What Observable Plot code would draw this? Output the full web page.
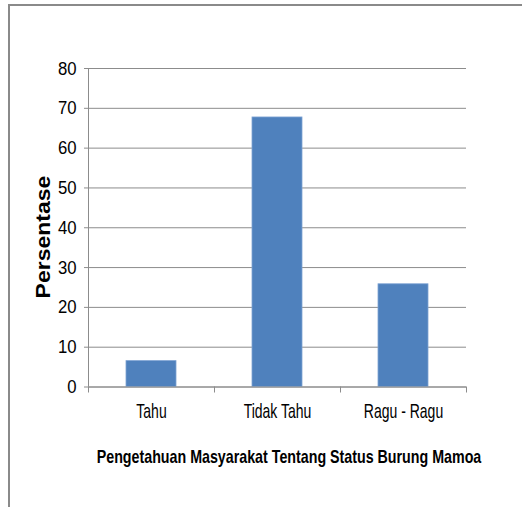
<!DOCTYPE html>
<html>
<head>
<meta charset="utf-8">
<script src="https://cdn.jsdelivr.net/npm/d3@7"></script>
<script src="https://cdn.jsdelivr.net/npm/@observablehq/plot@0.6"></script>
<style>
  html, body { margin: 0; padding: 0; background: #fff; overflow: hidden; width: 522px; height: 507px; }
  #frame { position: absolute; left: 8px; top: 4px; width: 700px; height: 700px; border: 2px solid #8a8a8a; box-sizing: border-box; }
  #chart { position: absolute; left: 0; top: 0; }
  .xtitle { position: absolute; left: 289px; top: 457px; transform: translate(-50%, -50%) scaleX(0.75); white-space: nowrap;
    font-family: "Liberation Sans", Arial, sans-serif; font-weight: bold; font-size: 19px; color: #000; }
  .ytitle { position: absolute; left: 44px; top: 237px; transform: translate(-50%, -50%) rotate(-90deg) scaleY(0.85); white-space: nowrap;
    font-family: "Liberation Sans", Arial, sans-serif; font-weight: bold; font-size: 23px; color: #000; }
</style>
</head>
<body>
<div id="frame"></div>
<div id="chart"></div>
<div class="xtitle">Pengetahuan Masyarakat Tentang Status Burung Mamoa</div>
<div class="ytitle">Persentase</div>
<script>
const categories = ["Tahu", "Tidak Tahu", "Ragu - Ragu"];
const values = [6.5, 67.7, 25.8];
const yTicks = [0, 10, 20, 30, 40, 50, 60, 70, 80];

const data = categories.map((c, i) => ({ category: c, index: i, value: values[i] }));
const boundaries = d3.range(categories.length + 1);
const centers = categories.map((c, i) => i + 0.5);

const tickFont = '"Liberation Sans", Arial, sans-serif';

const plot = Plot.plot({
  width: 522,
  height: 507,
  marginLeft: 88,
  marginRight: 56,
  marginTop: 68,
  marginBottom: 120.5,
  style: { fontFamily: tickFont, fontSize: "20px", color: "#000", background: "transparent" },
  x: { type: "linear", domain: [0, categories.length] },
  y: { domain: [0, 80] },
  marks: [
    Plot.gridY(yTicks, { stroke: "#8c8c8c", strokeOpacity: 1, strokeWidth: 1 }),
    Plot.axisY(yTicks, { tickSize: 4, tickPadding: 8, stroke: "#8c8c8c", fill: "#000", label: null, fontSize: 19 }),
    Plot.ruleX([0], { stroke: "#8c8c8c" }),
    Plot.rectY(data, { x1: "index", x2: d => d.index + 1, y: "value", fill: "#4f81bd", stroke: "#7ea3d3", strokeWidth: 0.8, insetLeft: 38, insetRight: 38 }),
    Plot.ruleY([0], { stroke: "#8c8c8c" }),
    Plot.axisX(boundaries, { tickSize: 6, tickFormat: () => "", stroke: "#8c8c8c", label: null }),
    Plot.axisX(centers, { tickSize: 0, tickPadding: 17, tickFormat: v => categories[Math.floor(v)], fill: "#000", label: null, fontSize: 20 })
  ]
});
document.getElementById("chart").appendChild(plot);

// condense tick label glyphs horizontally (narrow typeface look)
function condense(sel, k) {
  d3.select(plot).selectAll(sel).each(function () {
    const t = this.getAttribute("transform") || "";
    this.setAttribute("transform", t + ` scale(${k},1)`);
  });
}
condense('g[aria-label="y-axis tick label"] text', 0.88);
condense('g[aria-label="x-axis tick label"] text', 0.7);
</script>
</body>
</html>
